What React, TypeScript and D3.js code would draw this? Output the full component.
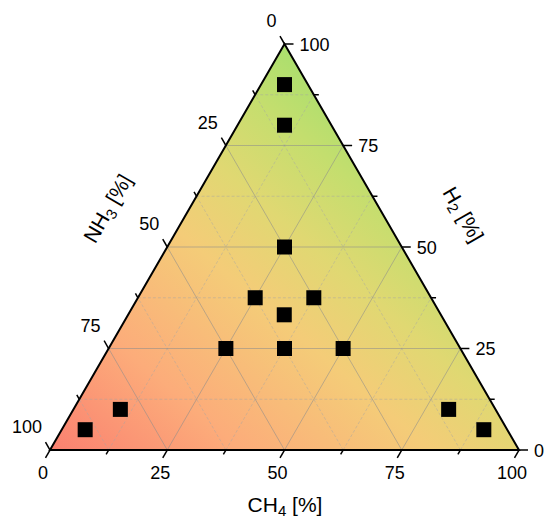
import React, { useEffect, useRef } from 'react';
import * as d3 from 'd3';

// composition of each sample, in % (NH3 = 100 - CH4 - H2)
const ch4Values = [5, 10, 25, 25, 37.5, 33.3, 25, 37.5, 50, 10, 5, 80, 90];
const h2Values = [90, 80, 50, 37.5, 37.5, 33.3, 25, 25, 25, 10, 5, 10, 5];

const majorTicks = [0, 25, 50, 75, 100];
const minorTicks = [12.5, 37.5, 62.5, 87.5];
const gridMajor = [25, 50, 75];

const gradientStops = [
  { offset: 0, color: 'rgb(250,128,112)' },
  { offset: 0.23, color: 'rgb(252,172,122)' },
  { offset: 0.46, color: 'rgb(244,204,120)' },
  { offset: 0.6, color: 'rgb(224,216,114)' },
  { offset: 0.74, color: 'rgb(196,222,110)' },
  { offset: 0.86, color: 'rgb(168,223,110)' },
  { offset: 1, color: 'rgb(150,221,110)' },
];

export default function App() {
  const svgRef = useRef<SVGSVGElement>(null);

  useEffect(() => {
    if (!svgRef.current) return;
    document.body.style.margin = '0';
    const svg = d3.select(svgRef.current);
    svg.selectAll('*').remove();

    // triangle corners: L = NH3 100, R = CH4 100, T = H2 100
    const L = { x: 50, y: 450 };
    const R = { x: 519, y: 450 };
    const T = { x: 284.5, y: 44 };

    const xScale = d3.scaleLinear().domain([0, 100]).range([L.x, R.x]);
    const yScale = d3.scaleLinear().domain([0, 100]).range([L.y, T.y]);

    // ternary -> screen
    const pos = (ch4: number, h2: number) => ({
      x: xScale(ch4 + h2 / 2),
      y: yScale(h2),
    });

    const defs = svg.append('defs');
    const grad = defs.append('linearGradient')
      .attr('id', 'bg')
      .attr('gradientUnits', 'userSpaceOnUse')
      .attr('x1', L.x).attr('y1', L.y)
      .attr('x2', L.x + 355).attr('y2', L.y - 410);
    gradientStops.forEach(s => {
      grad.append('stop').attr('offset', s.offset).attr('stop-color', s.color);
    });

    const tri = [pos(0, 0), pos(100, 0), pos(0, 100)];
    const triPath = `M${tri.map(p => `${p.x},${p.y}`).join('L')}Z`;

    svg.append('path')
      .attr('d', triPath)
      .attr('fill', 'url(#bg)');

    const grid = svg.append('g');
    const drawGrid = (vals: number[], stroke: string, dash: string | null) => {
      vals.forEach(v => {
        const r = 100 - v;
        const lines = [
          [pos(0, v), pos(r, v)], // constant H2
          [pos(v, 0), pos(v, r)], // constant CH4
          [pos(r, 0), pos(0, r)], // constant NH3
        ];
        lines.forEach(([a, b]) => {
          grid.append('line')
            .attr('x1', a.x).attr('y1', a.y)
            .attr('x2', b.x).attr('y2', b.y)
            .attr('stroke', stroke)
            .attr('stroke-width', 1)
            .attr('stroke-dasharray', dash);
        });
      });
    };
    drawGrid(minorTicks, 'rgba(165,165,165,0.45)', '3,2');
    drawGrid(gridMajor, 'rgba(140,140,140,0.55)', null);

    svg.append('path')
      .attr('d', triPath)
      .attr('fill', 'none')
      .attr('stroke', '#000')
      .attr('stroke-width', 2)
      .attr('stroke-linejoin', 'miter');

    const font = 'Liberation Sans, Arial, sans-serif';
    const axes = svg.append('g');

    const tick = (p: { x: number; y: number }, dx: number, dy: number) => {
      axes.append('line')
        .attr('x1', p.x).attr('y1', p.y)
        .attr('x2', p.x + dx).attr('y2', p.y + dy)
        .attr('stroke', '#000').attr('stroke-width', 1.5);
    };
    // bottom: CH4, left: NH3, right: H2
    const drawTicks = (v: number, len: number) => {
      tick(pos(v, 0), -0.5 * len, 0.866 * len);
      tick(pos(0, 100 - v), -0.5 * len, -0.866 * len);
      tick(pos(100 - v, v), len, 0);
    };

    majorTicks.forEach(v => {
      drawTicks(v, 9);

      const b = pos(v, 0);
      axes.append('text')
        .attr('x', b.x - 7).attr('y', b.y + 29)
        .attr('text-anchor', 'middle')
        .style('font-family', font).style('font-size', '18px')
        .text(v);

      const l = pos(0, 100 - v);
      axes.append('text')
        .attr('x', l.x - 8).attr('y', l.y - 17)
        .attr('text-anchor', 'end')
        .style('font-family', font).style('font-size', '18px')
        .text(v);

      const r = pos(100 - v, v);
      axes.append('text')
        .attr('x', r.x + 15).attr('y', r.y + 6.5)
        .attr('text-anchor', 'start')
        .style('font-family', font).style('font-size', '18px')
        .text(v);
    });
    minorTicks.forEach(v => drawTicks(v, 5));

    // axis titles
    const title = (x: number, y: number, rot: number, name: string, sub: string) => {
      const t = axes.append('text')
        .attr('transform', `translate(${x},${y}) rotate(${rot})`)
        .attr('text-anchor', 'middle')
        .style('font-family', font).style('font-size', '21px');
      t.append('tspan').text(name);
      t.append('tspan').attr('dy', 4).style('font-size', '15px').text(sub);
      t.append('tspan').attr('dy', -4).text(' [%]');
    };
    title(285, 512, 0, 'CH', '4');
    title(114, 212, -60, 'NH', '3');
    title(457, 218, 60, 'H', '2');

    // samples
    const size = 15;
    svg.append('g')
      .selectAll('rect')
      .data(ch4Values.map((c, i) => pos(c, h2Values[i])))
      .enter().append('rect')
      .attr('x', d => d.x - size / 2)
      .attr('y', d => d.y - size / 2)
      .attr('width', size)
      .attr('height', size)
      .attr('fill', '#000');
  }, []);

  return (
    <svg ref={svgRef} width={544} height={519} style={{ display: 'block' }} />
  );
}
